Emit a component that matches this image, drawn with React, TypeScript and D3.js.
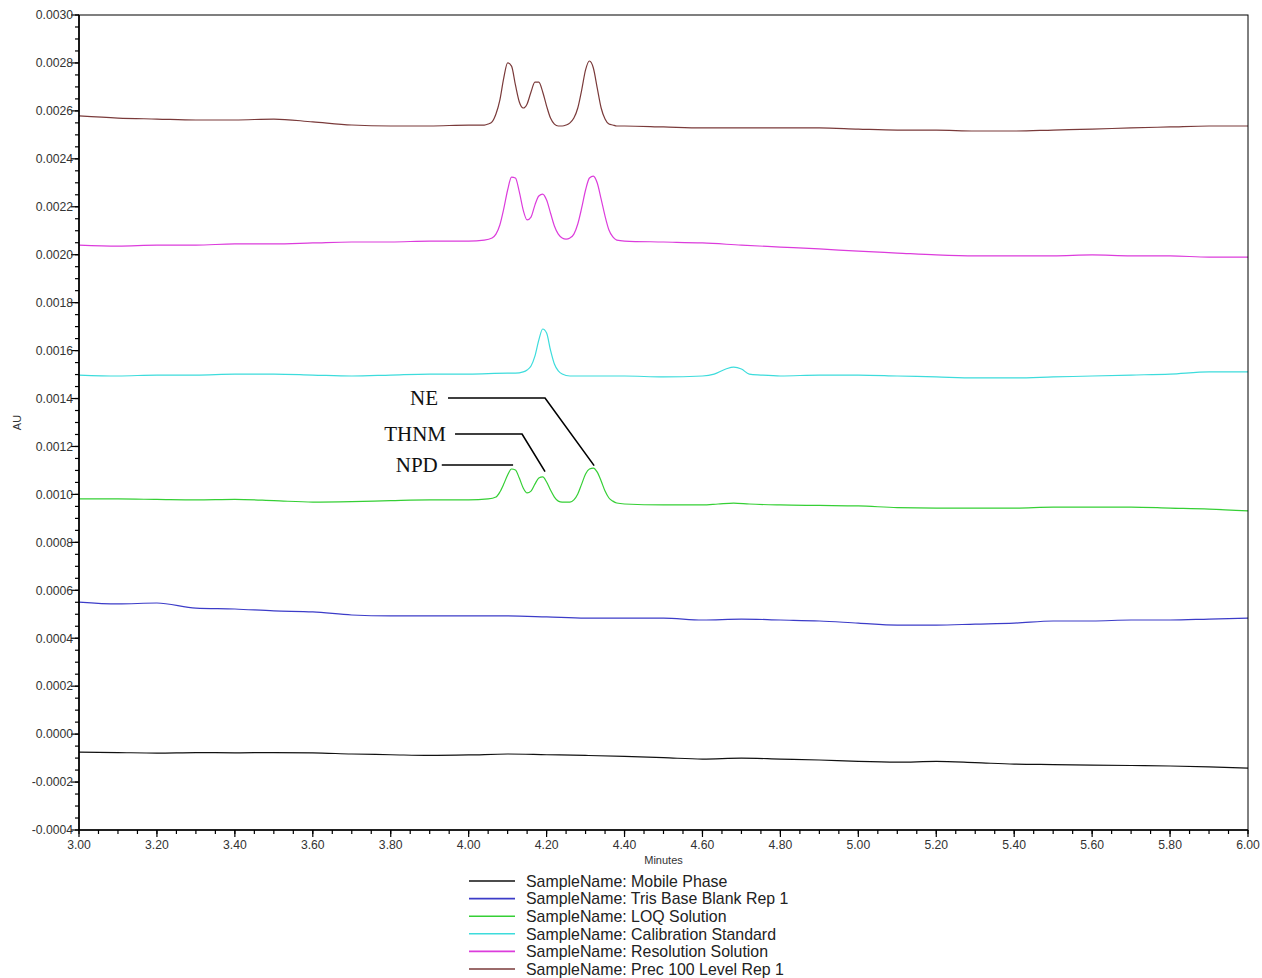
import React from "react";
import * as d3 from "d3";

// chromatogram traces, [minutes, AU]
const mobilePhase: [number, number][] = [
  [3.0, -0.000075], [3.1, -0.000077], [3.2, -0.000079], [3.3, -0.000077], [3.4, -0.000078],
  [3.5, -0.000077], [3.6, -0.000078], [3.7, -0.000083], [3.8, -0.000086], [3.9, -0.000089],
  [4.0, -0.000087], [4.1, -0.000083], [4.2, -0.000086], [4.3, -0.000089], [4.4, -0.000093],
  [4.5, -0.000098], [4.6, -0.000104], [4.7, -0.0001], [4.8, -0.000104], [4.9, -0.000108],
  [5.0, -0.000114], [5.1, -0.000117], [5.2, -0.000114], [5.3, -0.000119], [5.4, -0.000125],
  [5.5, -0.000127], [5.6, -0.000129], [5.7, -0.000131], [5.8, -0.000133], [5.9, -0.000137],
  [6.0, -0.000142],
];

const trisBlank: [number, number][] = [
  [3.0, 0.000551], [3.1, 0.000543], [3.2, 0.000547], [3.3, 0.000526], [3.4, 0.000522],
  [3.5, 0.000514], [3.6, 0.00051], [3.7, 0.000497], [3.8, 0.000493], [3.9, 0.000493],
  [4.0, 0.000493], [4.1, 0.000493], [4.2, 0.000489], [4.3, 0.000484], [4.4, 0.000484],
  [4.5, 0.000484], [4.6, 0.000476], [4.7, 0.00048], [4.8, 0.000476], [4.9, 0.000472],
  [5.0, 0.000463], [5.1, 0.000455], [5.2, 0.000455], [5.3, 0.000459], [5.4, 0.000463],
  [5.5, 0.000472], [5.6, 0.000472], [5.7, 0.000476], [5.8, 0.000476], [5.9, 0.00048],
  [6.0, 0.000484],
];

const loqSolution: [number, number][] = [
  [3.0, 0.000981], [3.1, 0.000981], [3.2, 0.000979], [3.3, 0.000977], [3.4, 0.000979],
  [3.5, 0.000974], [3.6, 0.000968], [3.7, 0.00097], [3.8, 0.000974], [3.9, 0.000977],
  [4.0, 0.000977], [4.05, 0.000981], [4.07, 0.000989], [4.08, 0.00101], [4.09, 0.001043],
  [4.1, 0.001081], [4.11, 0.001106], [4.12, 0.001102], [4.13, 0.001068], [4.14, 0.001027],
  [4.15, 0.001006], [4.16, 0.001014], [4.17, 0.001043], [4.18, 0.001068], [4.19, 0.001073],
  [4.2, 0.001052], [4.21, 0.001018], [4.22, 0.000989], [4.23, 0.000972], [4.24, 0.000968],
  [4.25, 0.000968], [4.26, 0.000968], [4.27, 0.000977], [4.28, 0.001002], [4.29, 0.001043],
  [4.3, 0.001085], [4.31, 0.001106], [4.32, 0.00111], [4.33, 0.001093], [4.34, 0.001056],
  [4.35, 0.001014], [4.36, 0.000985], [4.37, 0.000972], [4.38, 0.000964], [4.4, 0.00096],
  [4.5, 0.000956], [4.6, 0.000956], [4.64, 0.00096], [4.68, 0.000964], [4.72, 0.00096],
  [4.8, 0.000956], [4.9, 0.000954], [5.0, 0.000952], [5.1, 0.000945], [5.2, 0.000943],
  [5.3, 0.000943], [5.4, 0.000943], [5.5, 0.000947], [5.6, 0.000947], [5.7, 0.000947],
  [5.8, 0.000943], [5.9, 0.000939], [6.0, 0.000931],
];

const calStandard: [number, number][] = [
  [3.0, 0.001498], [3.1, 0.001494], [3.2, 0.001498], [3.3, 0.001498], [3.4, 0.001502],
  [3.5, 0.001502], [3.6, 0.001498], [3.7, 0.001494], [3.8, 0.001498], [3.9, 0.001502],
  [4.0, 0.001502], [4.1, 0.001506], [4.12, 0.001506], [4.14, 0.001511], [4.15, 0.001519],
  [4.16, 0.001536], [4.17, 0.001577], [4.18, 0.001644], [4.19, 0.00169], [4.2, 0.001673],
  [4.21, 0.001602], [4.22, 0.001544], [4.23, 0.001515], [4.24, 0.001502], [4.26, 0.001494],
  [4.3, 0.001494], [4.4, 0.001494], [4.5, 0.00149], [4.6, 0.001494], [4.63, 0.001502],
  [4.66, 0.001523], [4.68, 0.001531], [4.7, 0.001523], [4.72, 0.001502], [4.75, 0.001498],
  [4.8, 0.001494], [4.9, 0.001498], [5.0, 0.001498], [5.1, 0.001494], [5.2, 0.00149],
  [5.3, 0.001486], [5.4, 0.001486], [5.5, 0.00149], [5.6, 0.001494], [5.7, 0.001498],
  [5.8, 0.001502], [5.9, 0.001511], [6.0, 0.001511],
];

const resolutionSolution: [number, number][] = [
  [3.0, 0.00204], [3.1, 0.002036], [3.2, 0.00204], [3.3, 0.00204], [3.4, 0.002045],
  [3.5, 0.002045], [3.6, 0.002049], [3.7, 0.002053], [3.8, 0.002053], [3.9, 0.002057],
  [4.0, 0.002057], [4.04, 0.002061], [4.06, 0.00207], [4.07, 0.002086], [4.08, 0.002124],
  [4.09, 0.002191], [4.1, 0.00227], [4.11, 0.002324], [4.12, 0.00232], [4.13, 0.002262],
  [4.14, 0.002186], [4.15, 0.002145], [4.16, 0.002157], [4.17, 0.002207], [4.18, 0.002245],
  [4.19, 0.002253], [4.2, 0.002228], [4.21, 0.002174], [4.22, 0.00212], [4.23, 0.002086],
  [4.24, 0.00207], [4.25, 0.002065], [4.26, 0.00207], [4.27, 0.002086], [4.28, 0.002128],
  [4.29, 0.002195], [4.3, 0.00227], [4.31, 0.00232], [4.32, 0.002328], [4.33, 0.002299],
  [4.34, 0.002232], [4.35, 0.002161], [4.36, 0.002103], [4.37, 0.002074], [4.38, 0.002061],
  [4.4, 0.002057], [4.5, 0.002053], [4.6, 0.002049], [4.7, 0.00204], [4.8, 0.002032],
  [4.9, 0.002024], [5.0, 0.002015], [5.1, 0.002007], [5.2, 0.001999], [5.3, 0.001995],
  [5.4, 0.001995], [5.5, 0.001995], [5.6, 0.001999], [5.7, 0.001995], [5.8, 0.001995],
  [5.9, 0.00199], [6.0, 0.00199],
];

const prec100: [number, number][] = [
  [3.0, 0.002579], [3.1, 0.00257], [3.2, 0.002566], [3.3, 0.002562], [3.4, 0.002562],
  [3.5, 0.002566], [3.6, 0.002554], [3.7, 0.002541], [3.8, 0.002537], [3.9, 0.002537],
  [4.0, 0.002541], [4.04, 0.002541], [4.05, 0.002545], [4.06, 0.002554], [4.07, 0.002587],
  [4.08, 0.002645], [4.09, 0.002737], [4.1, 0.0028], [4.11, 0.002787], [4.12, 0.002708],
  [4.13, 0.002637], [4.14, 0.002612], [4.15, 0.002629], [4.16, 0.002679], [4.17, 0.00272],
  [4.18, 0.00272], [4.19, 0.002679], [4.2, 0.00262], [4.21, 0.00257], [4.22, 0.002545],
  [4.23, 0.002537], [4.24, 0.002537], [4.25, 0.002541], [4.26, 0.00255], [4.27, 0.00257],
  [4.28, 0.002612], [4.29, 0.002687], [4.3, 0.002771], [4.31, 0.002808], [4.32, 0.002779],
  [4.33, 0.002695], [4.34, 0.002612], [4.35, 0.002566], [4.36, 0.002545], [4.37, 0.002541],
  [4.38, 0.002537], [4.4, 0.002537], [4.5, 0.002533], [4.6, 0.002529], [4.7, 0.002529],
  [4.8, 0.002529], [4.9, 0.002529], [5.0, 0.002524], [5.1, 0.00252], [5.2, 0.00252],
  [5.3, 0.002516], [5.4, 0.002516], [5.5, 0.00252], [5.6, 0.002524], [5.7, 0.002529],
  [5.8, 0.002533], [5.9, 0.002537], [6.0, 0.002537],
];

const seriesNames = [
  "SampleName: Mobile Phase",
  "SampleName: Tris Base Blank Rep 1",
  "SampleName: LOQ Solution",
  "SampleName: Calibration Standard",
  "SampleName: Resolution Solution",
  "SampleName: Prec 100 Level Rep 1",
];
const seriesColors = ["#111111", "#3c3cc8", "#35cf35", "#3ddcdc", "#dc3cdc", "#7a3a3a"];
const seriesData = [mobilePhase, trisBlank, loqSolution, calStandard, resolutionSolution, prec100];

const yMajorTicks = [-0.0004, -0.0002, 0, 0.0002, 0.0004, 0.0006, 0.0008, 0.001, 0.0012, 0.0014,
  0.0016, 0.0018, 0.002, 0.0022, 0.0024, 0.0026, 0.0028, 0.003];
const xMajorTicks = [3.0, 3.2, 3.4, 3.6, 3.8, 4.0, 4.2, 4.4, 4.6, 4.8, 5.0, 5.2, 5.4, 5.6, 5.8, 6.0];

// peak labels: text, then leader polyline in [minutes, AU]
const peakNames = ["NE", "THNM", "NPD"];
const peakLeaders: [number, number][][] = [
  [[3.947, 0.001402], [4.196, 0.001402], [4.322, 0.00112]],
  [[3.965, 0.001252], [4.137, 0.001252], [4.196, 0.001095]],
  [[3.931, 0.001123], [4.114, 0.001123]],
];
const labelGaps = [10, 9, 4];

const W = 1262;
const H = 978;
const margin = { top: 15, right: 14, bottom: 148, left: 79 };

export default function App() {
  const x = d3.scaleLinear().domain([3, 6]).range([margin.left, W - margin.right]);
  const y = d3.scaleLinear().domain([-0.0004, 0.003]).range([H - margin.bottom, margin.top]);
  const line = d3
    .line<[number, number]>()
    .x((d) => x(d[0]))
    .y((d) => y(d[1]))
    .curve(d3.curveMonotoneX);

  const yMinor = d3.range(-0.0004, 0.0030001, 0.00005);
  const xMinor = d3.range(3, 6.0001, 0.05);
  const x0 = x(3), x1 = x(6), y0 = y(-0.0004), y1 = y(0.003);
  const tickFont = "'Liberation Sans', Arial, sans-serif";

  return (
    <svg width={W} height={H} style={{ position: "absolute", left: 0, top: 0, background: "#fff" }}>
      <defs>
        <clipPath id="plot">
          <rect x={x0} y={y1} width={x1 - x0} height={y0 - y1} />
        </clipPath>
      </defs>

      {/* traces */}
      <g clipPath="url(#plot)" fill="none">
        {seriesData.map((d, i) => (
          <path key={i} d={line(d) || ""} stroke={seriesColors[i]} strokeWidth={1.2} />
        ))}
      </g>

      {/* frame */}
      <rect x={x0} y={y1} width={x1 - x0} height={y0 - y1} fill="none" stroke="#000" strokeWidth={1} />
      <line x1={x0} x2={x0} y1={y1} y2={y0} stroke="#000" strokeWidth={1.6} />
      <line x1={x0} x2={x1} y1={y0} y2={y0} stroke="#000" strokeWidth={1.6} />

      {/* y axis */}
      <g stroke="#000" strokeWidth={1.2}>
        {yMinor.map((v, i) => (
          <line key={i} x1={x0 - 4} x2={x0} y1={y(v)} y2={y(v)} />
        ))}
        {yMajorTicks.map((v, i) => (
          <line key={i} x1={x0 - 8} x2={x0} y1={y(v)} y2={y(v)} />
        ))}
      </g>
      <g fontFamily={tickFont} fontSize={12.2} fill="#333" textAnchor="end">
        {yMajorTicks.map((v, i) => (
          <text key={i} x={x0 - 6} y={y(v)} dy="0.35em">{v.toFixed(4)}</text>
        ))}
      </g>
      <text transform={`translate(21,${(y0 + y1) / 2}) rotate(-90)`} textAnchor="middle"
        fontFamily={tickFont} fontSize={11} fill="#333">AU</text>

      {/* x axis */}
      <g stroke="#000" strokeWidth={1.2}>
        {xMinor.map((v, i) => (
          <line key={i} x1={x(v)} x2={x(v)} y1={y0} y2={y0 + 4} />
        ))}
        {xMajorTicks.map((v, i) => (
          <line key={i} x1={x(v)} x2={x(v)} y1={y0} y2={y0 + 7} />
        ))}
      </g>
      <g fontFamily={tickFont} fontSize={12.2} fill="#333" textAnchor="middle">
        {xMajorTicks.map((v, i) => (
          <text key={i} x={x(v)} y={y0 + 19}>{v.toFixed(2)}</text>
        ))}
      </g>
      <text x={(x0 + x1) / 2} y={y0 + 34} textAnchor="middle" fontFamily={tickFont} fontSize={11} fill="#333">
        Minutes
      </text>

      {/* peak labels */}
      <g fontFamily="'Liberation Serif', 'Times New Roman', serif" fontSize={21} fill="#111">
        {peakLeaders.map((p, i) => (
          <g key={i}>
            <path d={d3.line()(p.map((q) => [x(q[0]), y(q[1])])) || ""} fill="none" stroke="#000" strokeWidth={1.6} />
            <text x={x(p[0][0]) - labelGaps[i]} y={y(p[0][1])} dy="0.33em" textAnchor="end">{peakNames[i]}</text>
          </g>
        ))}
      </g>

      {/* legend */}
      <g fontFamily={tickFont} fontSize={15.9} fill="#222">
        {seriesNames.map((name, i) => (
          <g key={i} transform={`translate(469,${881 + i * 17.6})`}>
            <line x1={0} x2={46} y1={0} y2={0} stroke={seriesColors[i]} strokeWidth={1.6} />
            <text x={57} y={0} dy="0.36em">{name}</text>
          </g>
        ))}
      </g>
    </svg>
  );
}
